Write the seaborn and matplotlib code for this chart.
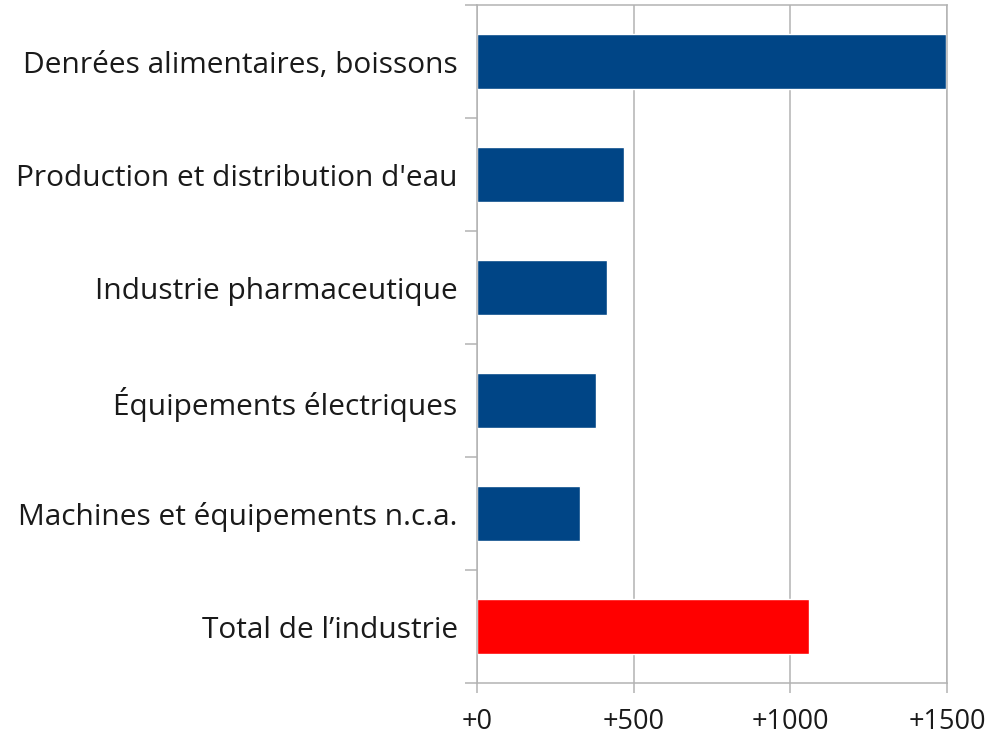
import matplotlib
matplotlib.use("Agg")
import matplotlib.pyplot as plt
import seaborn as sns
import pandas as pd
from matplotlib.ticker import FixedLocator

categories = [
    "Denrées alimentaires, boissons",
    "Production et distribution d'eau",
    "Industrie pharmaceutique",
    "Équipements électriques",
    "Machines et équipements n.c.a.",
    "Total de l’industrie",
]
values = [1495, 470, 414, 379, 328, 1060]
bar_colors = ["#004586", "#004586", "#004586", "#004586", "#004586", "#ff0000"]
xticks = [0, 500, 1000, 1500]
xtick_labels = ["+0", "+500", "+1000", "+1500"]

sns.set_theme(style="white")
plt.rcParams['font.family'] = ['Open Sans', 'DejaVu Sans']

df = pd.DataFrame({"cat": categories, "val": values})

fig = plt.figure(figsize=(9.96, 7.36), dpi=100)
ax = fig.add_axes([0.479, 0.072, 0.472, 0.921])

sns.barplot(data=df, x="val", y="cat", hue="cat", palette=bar_colors,
            legend=False, width=0.49, ax=ax, orient="h", saturation=1)

gridc = "#b3b3b3"
lw = 1.1
ax.set_xlim(0, 1500)
ax.set_ylim(len(categories) - 0.5, -0.5)
ax.set_xticks(xticks)
ax.set_xticklabels(xtick_labels, fontsize=19.5, color="#1a1a1a")
ax.xaxis.grid(True, color=gridc, linewidth=lw)
ax.set_axisbelow(True)
ax.set_xlabel("")
ax.set_ylabel("")
ax.tick_params(axis="y", which="major", length=0, pad=14, labelsize=21.5, labelcolor="#1a1a1a")
ax.yaxis.set_minor_locator(FixedLocator([i - 0.5 for i in range(len(categories) + 1)]))
ax.tick_params(axis="y", which="minor", length=8.6, width=lw, color=gridc, left=True)
ax.tick_params(axis="x", which="major", length=7.2, width=lw, color=gridc, bottom=True, pad=10.5)
for s in ["left", "top", "bottom", "right"]:
    ax.spines[s].set_visible(True)
    ax.spines[s].set_color(gridc)
    ax.spines[s].set_linewidth(lw)

fig.savefig("out.png", dpi=100)
